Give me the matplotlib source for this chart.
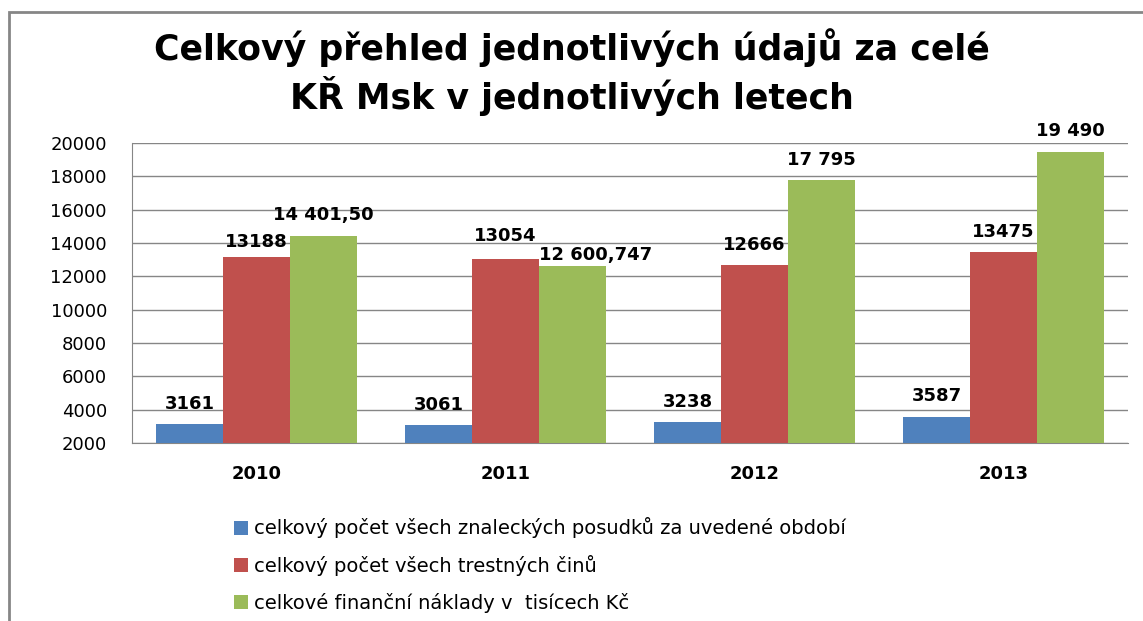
import matplotlib
matplotlib.use("Agg")
import matplotlib.pyplot as plt
import numpy as np
from matplotlib.patches import Rectangle

years = ["2010", "2011", "2012", "2013"]
series_names = [
    "celkový počet všech znaleckých posudků za uvedené období",
    "celkový počet všech trestných činů",
    "celkové finanční náklady v  tisícech Kč",
]
posudky = [3161, 3061, 3238, 3587]
trestne_ciny = [13188, 13054, 12666, 13475]
naklady = [14401.50, 12600.747, 17795, 19490]
posudky_labels = ["3161", "3061", "3238", "3587"]
trestne_labels = ["13188", "13054", "12666", "13475"]
naklady_labels = ["14 401,50", "12 600,747", "17 795", "19 490"]
yticks = [2000, 4000, 6000, 8000, 10000, 12000, 14000, 16000, 18000, 20000]

colors = ["#4F81BD", "#C0504D", "#9BBB59"]

# label placement tweaks (points) per series / category, styling only
label_offsets = {
    (1, 0): (0, 4), (1, 1): (0, 10),
    (2, 0): (0, 9), (2, 1): (17, 2),
}

plt.rcParams['font.family'] = ['DejaVu Sans']
fig = plt.figure(figsize=(11.43, 6.21), dpi=100)
W, H = 1143, 621
ax = fig.add_axes([132 / W, 1 - 443 / H, (1128 - 132) / W, (443 - 143) / H])

x = np.arange(len(years))
bw = 0.268
all_series = [posudky, trestne_ciny, naklady]
all_labels = [posudky_labels, trestne_labels, naklady_labels]
for i, (vals, labs) in enumerate(zip(all_series, all_labels)):
    pos = x + (i - 1) * bw
    ax.bar(pos, vals, width=bw, color=colors[i], label=series_names[i], zorder=3)
    for j, (p, v, l) in enumerate(zip(pos, vals, labs)):
        off = label_offsets.get((i, j), (0, 8))
        ax.annotate(l, (p, v), xytext=off, textcoords="offset points",
                    ha="center", va="bottom", fontsize=13, fontweight="bold",
                    zorder=4, annotation_clip=False)

ax.set_xlim(-0.5, 3.5)
ax.set_ylim(2000, 20000)
ax.set_yticks(yticks)
ax.set_yticklabels([str(t) for t in yticks], fontsize=13)
ax.set_xticks(x)
ax.set_xticklabels(years, fontsize=13, fontweight="bold")
ax.tick_params(axis="y", length=0, pad=18)
ax.tick_params(axis="x", length=0, pad=16)
ax.grid(axis="y", color="#868686", linewidth=1, zorder=0)
for s in ["top", "right"]:
    ax.spines[s].set_visible(False)
ax.spines["left"].set_color("#868686")
ax.spines["bottom"].set_color("#868686")

fig.text(0.5, 1 - 72 / H, "Celkový přehled jednotlivých údajů za celé\nKŘ Msk v jednotlivých letech",
         ha="center", va="center", fontsize=25, fontweight="bold", linespacing=1.25)

# outer chart border
fig.add_artist(Rectangle((9 / W, -0.1), 1.2, 1 - 12 / H + 0.1, transform=fig.transFigure,
                         fill=False, edgecolor="#868686", linewidth=2))

handles, labels = ax.get_legend_handles_labels()
fig.legend(handles, labels, loc="upper left", bbox_to_anchor=(216 / W, 1 - 500 / H),
           frameon=False, fontsize=14, handlelength=0.75, handleheight=0.75,
           handletextpad=0.3, labelspacing=0.85)

fig.savefig("out.png", dpi=100)
